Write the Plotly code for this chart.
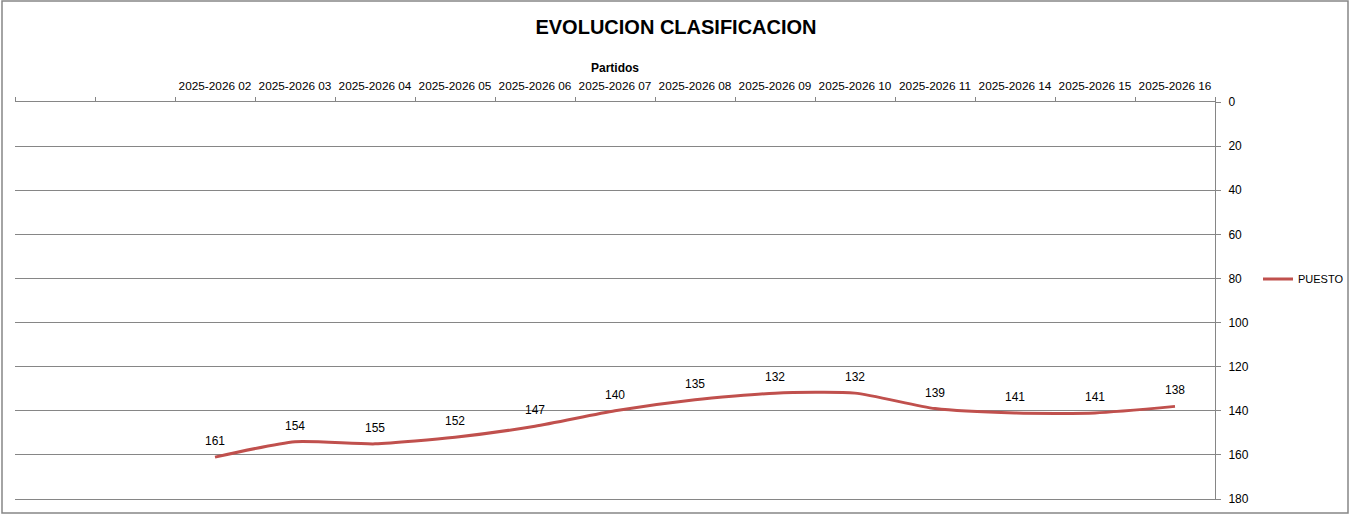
import plotly.graph_objects as go

# categorias del eje (las dos primeras vacias, como en la hoja original)
categorias = [" ", "  ", "2025-2026 02", "2025-2026 03", "2025-2026 04", "2025-2026 05",
              "2025-2026 06", "2025-2026 07", "2025-2026 08", "2025-2026 09",
              "2025-2026 10", "2025-2026 11", "2025-2026 14", "2025-2026 15",
              "2025-2026 16"]
partidos = categorias[2:]
puesto = [161, 154, 155, 152, 147, 140, 135, 132, 132, 139, 141, 141, 138]
ticks_y = [0, 20, 40, 60, 80, 100, 120, 140, 160, 180]

ROJO = "#C0504D"
GRIS = "#868686"
FUENTE = "Liberation Sans"

fig = go.Figure()

fig.add_trace(go.Scatter(
    x=partidos,
    y=puesto,
    mode="lines",
    name="PUESTO",
    line=dict(color=ROJO, width=3, shape="spline", smoothing=0.6),
))

# etiquetas de datos encima de cada punto
for p, v in zip(partidos, puesto):
    fig.add_annotation(x=p, y=v, text=str(v), showarrow=False, yshift=16,
                       font=dict(family=FUENTE, size=12, color="black"))

fig.update_layout(
    width=1352, height=515,
    paper_bgcolor="white",
    plot_bgcolor="white",
    margin=dict(l=15, r=137, t=102, b=16, autoexpand=False),
    title=dict(text="<b>EVOLUCION CLASIFICACION</b>", x=0.5, xref="container",
               y=1 - 27 / 515, yref="container", yanchor="middle", xanchor="center",
               font=dict(family=FUENTE, size=20, color="black")),
    legend=dict(x=1258 / 1352, y=1 - 279 / 515, xref="container", yref="container",
                xanchor="left", yanchor="middle",
                font=dict(family=FUENTE, size=11, color="black"),
                bgcolor="rgba(0,0,0,0)", itemwidth=30),
    showlegend=True,
    xaxis=dict(
        type="category", categoryorder="array", categoryarray=categorias,
        range=[-0.5, len(categorias) - 0.5],
        side="top", tickson="boundaries", ticks="outside", ticklen=4,
        tickcolor=GRIS, showline=True, linecolor=GRIS, linewidth=1, mirror=True,
        showgrid=False, zeroline=False, tickangle=0, ticklabelstandoff=6,
        tickfont=dict(family=FUENTE, size=11.8, color="black"),
        title=dict(text="<b>Partidos</b>", standoff=4,
                   font=dict(family=FUENTE, size=12, color="black")),
    ),
    yaxis=dict(
        range=[180, 0], side="right", tickvals=ticks_y,
        ticks="outside", ticklen=5, tickcolor=GRIS,
        showline=True, linecolor=GRIS, linewidth=1, ticklabelstandoff=5,
        showgrid=True, gridcolor=GRIS, gridwidth=1, zeroline=False,
        tickfont=dict(family=FUENTE, size=12, color="black"),
    ),
)

# marco exterior del grafico
fig.add_shape(type="rect", xref="paper", yref="paper",
              x0=(2 - 15) / 1200, x1=(1348 - 15) / 1200,
              y0=(499 - 513) / 397, y1=(499 - 1) / 397,
              line=dict(color=GRIS, width=1.5), layer="below")

fig.write_html("out.html", config={"displayModeBar": False},
               post_script="document.body.style.margin='0';")
